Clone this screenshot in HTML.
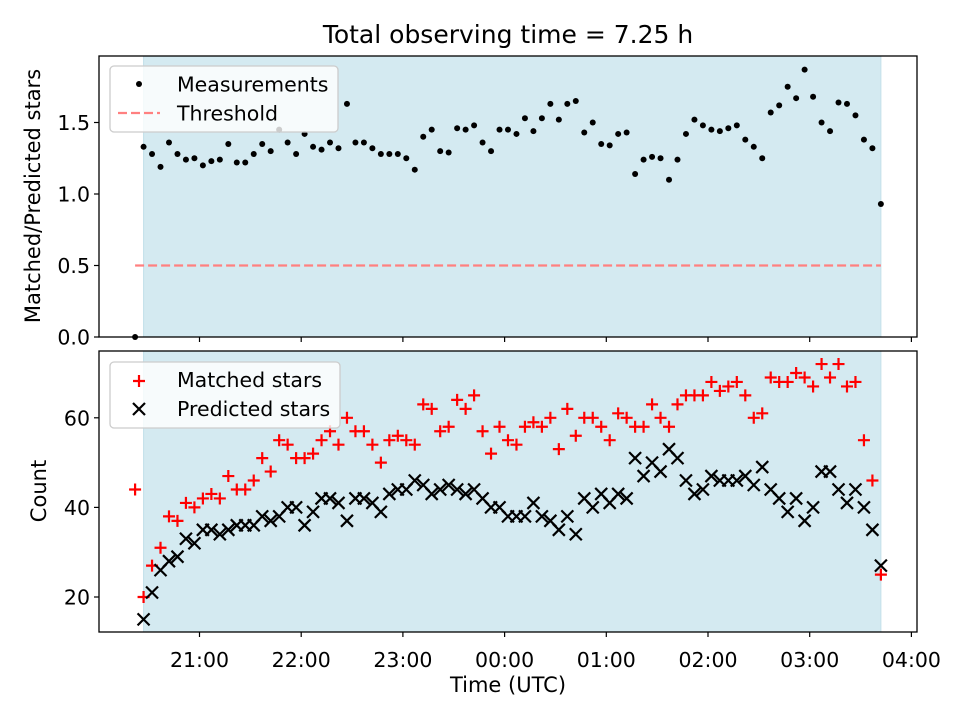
<!DOCTYPE html>
<html><head><meta charset="utf-8"><style>
html,body{margin:0;padding:0;background:#fff;}
svg{display:block;font-family:"DejaVu Sans","Liberation Sans",sans-serif;}
</style></head><body>
<svg id="chart" width="960" height="720" viewBox="0 0 960 720">
<rect width="960" height="720" fill="#fff"/>
<text x="508" y="43" font-size="25" text-anchor="middle">Total observing time = 7.25 h</text>
<g id="topPanel"></g>
<g id="botPanel"></g>
<text x="0" y="0" font-size="21" text-anchor="middle" transform="translate(40,196) rotate(-90)">Matched/Predicted stars</text>
<text x="0" y="0" font-size="21" text-anchor="middle" transform="translate(46,491) rotate(-90)">Count</text>
<text x="508" y="692" font-size="21" text-anchor="middle">Time (UTC)</text>
</svg>
<script>
// minutes since 20:00 UTC
const firstTime = 22;
const firstRatio = 0;
const firstMatched = 44;
const times = [27,32,37,42,47,52,57,62,67,72,77,82,87,92,97,102,107,112,117,122,127,132,137,142,147,152,157,162,167,172,177,182,187,192,197,202,207,212,217,222,227,232,237,242,247,252,257,262,267,272,277,282,287,292,297,302,307,312,317,322,327,332,337,342,347,352,357,362,367,372,377,382,387,392,397,402,407,412,417,422,427,432,437,442,447,452,457,462];
const ratio = [1.33,1.28,1.19,1.36,1.28,1.24,1.25,1.20,1.23,1.24,1.35,1.22,1.22,1.28,1.35,1.30,1.45,1.36,1.28,1.42,1.33,1.31,1.36,1.32,1.63,1.36,1.36,1.32,1.28,1.28,1.28,1.25,1.17,1.40,1.45,1.30,1.29,1.46,1.45,1.48,1.36,1.30,1.45,1.45,1.42,1.53,1.44,1.53,1.63,1.52,1.63,1.65,1.43,1.50,1.35,1.34,1.42,1.43,1.14,1.24,1.26,1.25,1.10,1.24,1.42,1.52,1.48,1.45,1.44,1.46,1.48,1.38,1.33,1.25,1.57,1.62,1.75,1.67,1.87,1.68,1.50,1.44,1.64,1.63,1.55,1.38,1.32,0.93];
const matched = [20,27,31,38,37,41,40,42,43,42,47,44,44,46,51,48,55,54,51,51,52,55,57,54,60,57,57,54,50,55,56,55,54,63,62,57,58,64,62,65,57,52,58,55,54,58,59,58,60,53,62,56,60,60,58,55,61,60,58,58,63,60,58,63,65,65,65,68,66,67,68,65,60,61,69,68,68,70,69,67,72,69,72,67,68,55,46,25];
const predicted = [15,21,26,28,29,33,32,35,35,34,35,36,36,36,38,37,38,40,40,36,39,42,42,41,37,42,42,41,39,43,44,44,46,45,43,44,45,44,43,44,42,40,40,38,38,38,41,38,37,35,38,34,42,40,43,41,43,42,51,47,50,48,53,51,46,43,44,47,46,46,46,47,45,49,44,42,39,42,37,40,48,48,44,41,44,40,35,27];
const threshold = 0.5;
const xTickLabels = ["21:00","22:00","23:00","00:00","01:00","02:00","03:00","04:00"];
const xTickTimes = [60,120,180,240,300,360,420,480];
const topTicks = [0.0,0.5,1.0,1.5];
const botTicks = [20,40,60];

const NS = "http://www.w3.org/2000/svg";
const L = 99, R = 917;
const xs = t => 199.5 + (t - 60) * 101.7 / 60;
const yTop = v => 337 - v * 143;
const yBot = v => 597 - (v - 20) * 4.48;
function mk(parent, tag, attrs){const e=document.createElementNS(NS,tag);for(const k in attrs)e.setAttribute(k,attrs[k]);parent.appendChild(e);return e;}

function panel(g, y0, y1, yfun, ticks, fmt, showLabels){
  const sh = mk(g,'rect',{x:xs(times[0]),y:y0,width:xs(times[times.length-1])-xs(times[0]),height:y1-y0,fill:'#d4eaf1',stroke:'#c3e0ea','stroke-width':1});
  
  
  ticks.forEach(v=>{
    const y=yfun(v);
    const t=mk(g,'line',{x1:L-5,x2:L,y1:y,y2:y,stroke:'#000','stroke-width':1.2});
    
    
    const tx=mk(g,'text',{x:L-9,y:y+7.5,'font-size':20.5,'text-anchor':'end'});
    tx.textContent=fmt(v);
    
    
  });
  xTickTimes.forEach((t,i)=>{
    const x=xs(t);
    const tk=mk(g,'line',{x1:x,x2:x,y1:y1,y2:y1+5,stroke:'#000','stroke-width':1.2});
    
    
    if(showLabels){
      const tx=mk(g,'text',{x:x,y:y1+35,'font-size':20.5,'text-anchor':'middle'});
      tx.textContent=xTickLabels[i];
      
      
    }
  });
}
function frame(g,y0,y1){
  const f=mk(g,'rect',{x:L,y:y0,width:R-L,height:y1-y0,fill:'none',stroke:'#000','stroke-width':1.3});
  
  
}
function plus(g,x,y){
  const p=mk(g,'path',{d:`M${x-6} ${y}H${x+6}M${x} ${y-6}V${y+6}`,stroke:'#ff0000','stroke-width':2.2,fill:'none'});
  
  
  return p;
}
function cross(g,x,y){
  const p=mk(g,'path',{d:`M${x-6} ${y-6}L${x+6} ${y+6}M${x-6} ${y+6}L${x+6} ${y-6}`,stroke:'#000','stroke-width':2.2,fill:'none'});
  
  
  return p;
}

// top panel
const topG = document.getElementById('topPanel');
panel(topG,56,337,yTop,topTicks,v=>v.toFixed(1),false);
const th = mk(topG,'line',{x1:xs(firstTime),x2:xs(times[times.length-1]),y1:yTop(threshold),y2:yTop(threshold),stroke:'#ff8080','stroke-width':2.3,'stroke-dasharray':'9 4'});


const d0 = mk(topG,'circle',{cx:xs(firstTime),cy:yTop(firstRatio),r:3,fill:'#000'});


times.forEach((t,i)=>{
  const c=mk(topG,'circle',{cx:xs(t),cy:yTop(ratio[i]),r:3,fill:'#000'});
  
  
});
frame(topG,56,337);
const lg1 = mk(topG,'g',{});


mk(lg1,'rect',{x:110,y:66,width:228,height:66,rx:4,fill:'#fff','fill-opacity':0.8,stroke:'#cccccc','stroke-width':1.3});
mk(lg1,'circle',{cx:139,cy:84,r:3,fill:'#000'});
const lt1=mk(lg1,'text',{x:177,y:91.5,'font-size':20.5});lt1.textContent='Measurements';


mk(lg1,'line',{x1:118,x2:160,y1:113,y2:113,stroke:'#ff8080','stroke-width':2.3,'stroke-dasharray':'9 4'});
const lt2=mk(lg1,'text',{x:177,y:120.5,'font-size':20.5});lt2.textContent='Threshold';



// bottom panel
const botG = document.getElementById('botPanel');
panel(botG,351,632,yBot,botTicks,v=>String(v),true);
plus(botG,xs(firstTime),yBot(firstMatched));
times.forEach((t,i)=>{ plus(botG,xs(t),yBot(matched[i])); });
times.forEach((t,i)=>{ cross(botG,xs(t),yBot(predicted[i])); });
frame(botG,351,632);
const lg2 = mk(botG,'g',{});


mk(lg2,'rect',{x:110,y:362,width:230,height:66,rx:4,fill:'#fff','fill-opacity':0.8,stroke:'#cccccc','stroke-width':1.3});
plus(lg2,139,381);
const lt3=mk(lg2,'text',{x:177,y:387,'font-size':20.5});lt3.textContent='Matched stars';


cross(lg2,139,409);
const lt4=mk(lg2,'text',{x:177,y:416,'font-size':20.5});lt4.textContent='Predicted stars';


</script>
</body></html>
